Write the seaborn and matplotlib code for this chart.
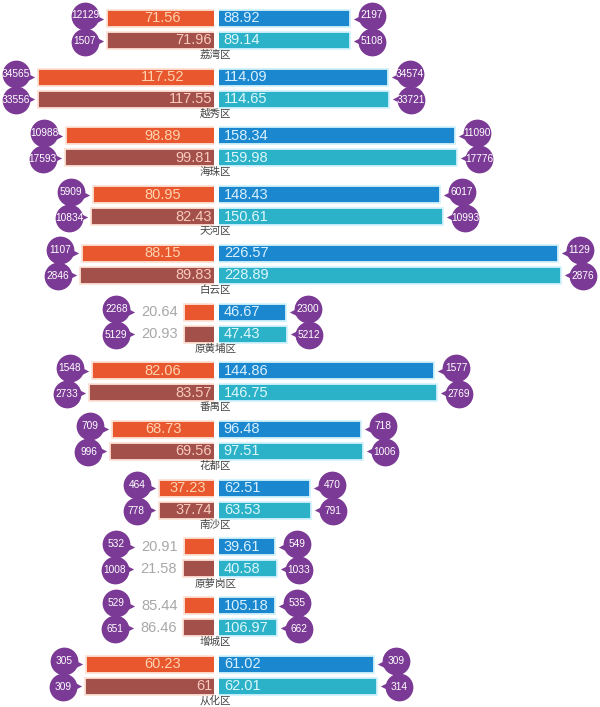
import numpy as np
import pandas as pd
import matplotlib
matplotlib.use("Agg")
import matplotlib.pyplot as plt
import seaborn as sns

# ---------------- data ----------------
districts = ["荔湾区", "越秀区", "海珠区", "天河区", "白云区", "原黄埔区",
             "番禺区", "花都区", "南沙区", "原萝岗区", "增城区", "从化区"]
left_top = [71.56, 117.52, 98.89, 80.95, 88.15, 20.64, 82.06, 68.73, 37.23, 20.91, 85.44, 60.23]
left_bot = [71.96, 117.55, 99.81, 82.43, 89.83, 20.93, 83.57, 69.56, 37.74, 21.58, 86.46, 61]
right_top = [88.92, 114.09, 158.34, 148.43, 226.57, 46.67, 144.86, 96.48, 62.51, 39.61, 105.18, 61.02]
right_bot = [89.14, 114.65, 159.98, 150.61, 228.89, 47.43, 146.75, 97.51, 63.53, 40.58, 106.97, 62.01]
# bar lengths as drawn in the source picture (its last two districts are drawn shifted)
bar_left_top = [71.56, 117.52, 98.89, 80.95, 88.15, 20.64, 82.06, 68.73, 37.23, 20.91, 20.91, 85.44]
bar_left_bot = [71.96, 117.55, 99.81, 82.43, 89.83, 20.93, 83.57, 69.56, 37.74, 21.58, 21.58, 86.46]
bar_right_top = [88.92, 114.09, 158.34, 148.43, 226.57, 46.67, 144.86, 96.48, 62.51, 39.61, 39.61, 105.18]
bar_right_bot = [89.14, 114.65, 159.98, 150.61, 228.89, 47.43, 146.75, 97.51, 63.53, 40.58, 40.58, 106.97]
# numbers in the purple bubbles (as shown)
bub_left_top = ["12129", "34565", "10988", "5909", "1107", "2268", "1548", "709", "464", "532", "529", "305"]
bub_left_bot = ["1507", "33556", "17593", "10834", "2846", "5129", "2733", "996", "778", "1008", "651", "309"]
bub_right_top = ["2197", "34574", "11090", "6017", "1129", "2300", "1577", "718", "470", "549", "535", "309"]
bub_right_bot = ["5108", "33721", "17776", "10993", "2876", "5212", "2769", "1006", "791", "1033", "662", "314"]

# ---------------- style ----------------
C_LT, C_LB, C_RT, C_RB = "#E8572E", "#A34F4A", "#1A87CF", "#2BB2C9"
PURPLE = "#7B3A95"
NUMFONT = ["Liberation Sans", "DejaVu Sans"]
CJK = ["Noto Sans CJK SC", "DejaVu Sans"]

W, H = 600, 707
PX = 1.51            # pixels per value unit
CX = 215.5           # pixel x of the centre line
Y0, PITCH, DY, LBL = 18.5, 58.7, 22.0, 36.5
BAR_H = 17.0
SHORT = 30           # bars shorter than this get their label outside

sns.set_theme(style="white")
plt.rcParams["font.family"] = NUMFONT

fig = plt.figure(figsize=(W / 100, H / 100), dpi=100)
ax = fig.add_axes([0, 0, 1, 1])

n = len(districts)
yt = [Y0 + PITCH * i for i in range(n)]
yb = [v + DY for v in yt]

rows = []
for i in range(n):
    rows.append((yt[i], -bar_left_top[i], "lt"))
    rows.append((yb[i], -bar_left_bot[i], "lb"))
    rows.append((yt[i], bar_right_top[i], "rt"))
    rows.append((yb[i], bar_right_bot[i], "rb"))
df = pd.DataFrame(rows, columns=["y", "value", "series"])

sns.barplot(data=df, x="value", y="y", hue="series", orient="y",
            palette={"lt": C_LT, "lb": C_LB, "rt": C_RT, "rb": C_RB},
            native_scale=True, dodge=False, errorbar=None,
            width=BAR_H / DY, legend=False, ax=ax, saturation=1)
for p in ax.patches:
    if p.get_width() < 0 or p.get_x() < -0.01:
        p.set_edgecolor("#FCE2D6")
    else:
        p.set_edgecolor("#D2F2FB")
    p.set_linewidth(1.3)

ax.axvline(0, color="white", lw=3.6, zorder=5)

u = 1 / PX  # one pixel in value units


def left_anchor(v):
    """x of the outer end of the left group (bar, or bar + outside label)."""
    return -v if v >= SHORT else -v - 46 * u


bl_x = [left_anchor(v) - 22 * u for v in bar_left_top] + \
       [left_anchor(v) - 22 * u for v in bar_left_bot]
bl_y = [y - 3 for y in yt] + [y + 1 for y in yb]
br_x = [v + 22 * u for v in bar_right_top] + [v + 22 * u for v in bar_right_bot]
br_y = bl_y
sns.scatterplot(x=bl_x + br_x, y=bl_y + br_y, s=400, color=PURPLE,
                linewidth=0, ax=ax, zorder=6, legend=False)
tl_x = [left_anchor(v) - 8 * u for v in bar_left_top] + \
       [left_anchor(v) - 8 * u for v in bar_left_bot]
tl_y = list(yt) + list(yb)
sns.scatterplot(x=tl_x, y=tl_y, s=45, marker=">", color=PURPLE,
                linewidth=0, ax=ax, zorder=6, legend=False)
tr_x = [v + 8 * u for v in bar_right_top] + [v + 8 * u for v in bar_right_bot]
sns.scatterplot(x=tr_x, y=tl_y, s=45, marker="<", color=PURPLE,
                linewidth=0, ax=ax, zorder=6, legend=False)

bub_l = bub_left_top + bub_left_bot
bub_r = bub_right_top + bub_right_bot
for k in range(2 * n):
    ax.text(bl_x[k], bl_y[k], bub_l[k], ha="center", va="center",
            fontsize=7.3, color="white", zorder=7, family=NUMFONT)
    ax.text(br_x[k], br_y[k], bub_r[k], ha="center", va="center",
            fontsize=7.3, color="white", zorder=7, family=NUMFONT)

# value labels
FS = 10.5
for i in range(n):
    # left top
    if bar_left_top[i] >= SHORT:
        ax.text(-min(bar_left_top[i], 70) / 2, yt[i], f"{left_top[i]:g}", ha="center",
                va="center", fontsize=FS, color="#FDD3B0", zorder=7)
    else:
        ax.text(-bar_left_top[i] - 6 * u, yt[i], f"{left_top[i]:g}", ha="right",
                va="center", fontsize=FS, color="#A8A8A8", zorder=7)
    # left bottom
    if bar_left_bot[i] >= SHORT:
        ax.text(-2.2, yb[i], f"{left_bot[i]:g}", ha="right",
                va="center", fontsize=FS, color="#F8CABD", zorder=7)
    else:
        ax.text(-bar_left_bot[i] - 6 * u, yb[i], f"{left_bot[i]:g}", ha="right",
                va="center", fontsize=FS, color="#A8A8A8", zorder=7)
    ax.text(5.5, yt[i], f"{right_top[i]:.2f}", ha="left", va="center",
            fontsize=FS, color="#D9F1FF", zorder=7)
    ax.text(5.5, yb[i], f"{right_bot[i]:.2f}", ha="left", va="center",
            fontsize=FS, color="#DDF7FA", zorder=7)
    ax.text(0, yt[i] + LBL, districts[i], ha="center", va="center",
            fontsize=7.6, color="#444444", family=CJK, zorder=7)

ax.set_xlim(-CX / PX, (W - CX) / PX)
ax.set_ylim(H, 0)
ax.axis("off")
fig.savefig("out.png", dpi=100, facecolor="white")
